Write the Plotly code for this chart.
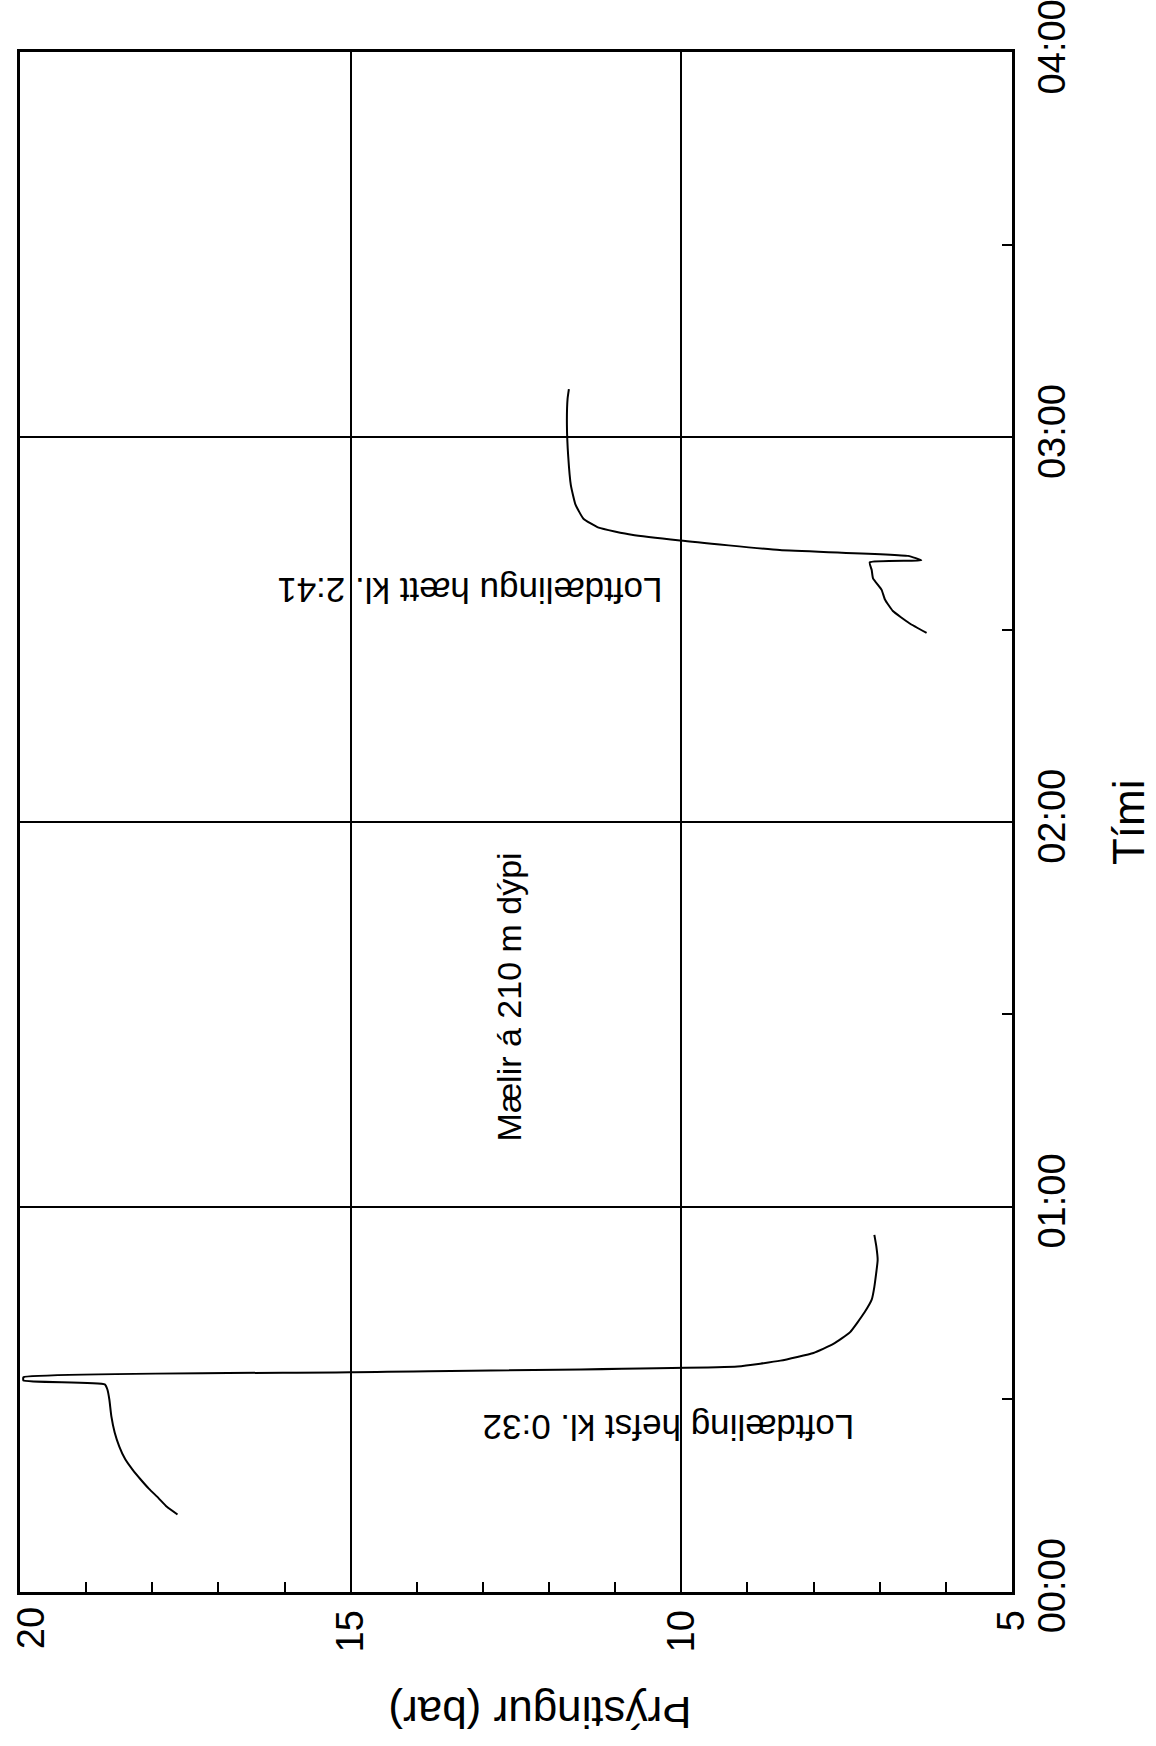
import pandas as pd
import plotly.graph_objects as go

# ---- data (pressure in bar, time in minutes after 00:00) ----
p_before = [17.62, 17.78, 17.91, 18.05, 18.18, 18.30, 18.41, 18.50, 18.57, 18.62, 18.65,
            18.68, 18.72, 19.95, 19.95, 15.0, 9.15, 8.5, 8.0, 7.7, 7.45, 7.23, 7.12,
            7.08, 7.03, 7.05, 7.08]
t_before = [12.0, 13.2, 14.6, 16.0, 17.5, 19.0, 20.6, 22.6, 24.8, 27.3, 29.9,
            31.5, 32.3, 32.9, 33.4, 34.2, 35.1, 36.0, 37.2, 38.6, 40.4, 43.5, 45.5,
            47.5, 51.7, 53.8, 55.6]

p_after = [6.29, 6.55, 6.80, 6.92, 6.97, 7.10, 7.12, 7.15, 6.37, 6.57, 8.51, 10.02,
           10.75, 11.25, 11.48, 11.6, 11.67, 11.71, 11.73, 11.72, 11.70]
t_after = [149.5, 151.0, 152.9, 154.7, 156.2, 158.0, 159.3, 160.5, 160.8, 161.5, 162.4, 163.9,
           164.8, 165.9, 167.3, 169.5, 172.5, 177.0, 182.0, 186.0, 187.5]

pressure_ticks = [20, 15, 10, 5]
hour_ticks = ["00:00", "01:00", "02:00", "03:00", "04:00"]

base = pd.Timestamp("2000-01-01 00:00")


def to_time(mins):
    return [base + pd.Timedelta(minutes=m) for m in mins]


FONT = "Liberation Sans, Arial, Helvetica, sans-serif"
BLACK = "black"

fig = go.Figure()
fig.add_trace(go.Scatter(x=p_before, y=to_time(t_before), mode="lines",
                         line=dict(color=BLACK, width=2, shape="spline", smoothing=0.4),
                         showlegend=False))
fig.add_trace(go.Scatter(x=p_after, y=to_time(t_after), mode="lines",
                         line=dict(color=BLACK, width=2, shape="spline", smoothing=0.4),
                         showlegend=False))

fig.update_layout(
    width=1156, height=1746,
    margin=dict(l=20, r=144, t=52, b=154, autoexpand=False),
    paper_bgcolor="white", plot_bgcolor="white",
    font=dict(family=FONT, color=BLACK),
    showlegend=False,
)

# the first label (20) sits on the page edge, so it is drawn as an annotation below
fig.update_xaxes(
    range=[20.002, 4.998], tickmode="array", tickvals=pressure_ticks,
    ticktext=[""] + [str(v) for v in pressure_ticks[1:]],
    tickangle=-90, tickfont=dict(size=38, family=FONT, color=BLACK),
    ticks="inside", ticklen=10, tickwidth=2, tickcolor=BLACK,
    showline=True, linewidth=3, linecolor=BLACK, mirror=True,
    showgrid=True, gridcolor=BLACK, gridwidth=2, zeroline=False,
    minor=dict(tickmode="array", tickvals=list(range(6, 20)), ticks="inside", ticklen=10,
               tickwidth=2, tickcolor=BLACK, showgrid=False),
    ticklabelstandoff=0,
    ticklabeloverflow="allow",
    automargin=False,
)

fig.update_yaxes(
    type="date",
    range=[base - pd.Timedelta(seconds=5), base + pd.Timedelta(hours=4, seconds=5)],
    side="right",
    tickmode="array",
    tickvals=to_time([0, 60, 120, 180, 240]),
    ticktext=hour_ticks,
    tickangle=-90, tickfont=dict(size=38, family=FONT, color=BLACK),
    ticks="inside", ticklen=10, tickwidth=2, tickcolor=BLACK,
    showline=True, linewidth=3, linecolor=BLACK, mirror=True,
    showgrid=True, gridcolor=BLACK, gridwidth=2, zeroline=False,
    minor=dict(tickmode="array", tickvals=to_time([30, 90, 150, 210]), ticks="inside",
               ticklen=10, tickwidth=2, tickcolor=BLACK, showgrid=False),
    ticklabelstandoff=4,
    ticklabeloverflow="allow",
    automargin=False,
)

fig.add_annotation(x=pressure_ticks[0], xref="x", yref="paper", y=-0.0085,
                   text=str(pressure_ticks[0]), textangle=-90, showarrow=False,
                   xanchor="left", yanchor="top", xshift=-12,
                   font=dict(family=FONT, size=38, color=BLACK))

ann_font = dict(family=FONT, size=35, color=BLACK)
fig.add_annotation(x=12.6, y=base + pd.Timedelta(minutes=92.7), text="Mælir á 210 m dýpi",
                   textangle=-90, showarrow=False, xanchor="center", yanchor="middle",
                   font=dict(family=FONT, size=34, color=BLACK))
fig.add_annotation(x=10.2, y=base + pd.Timedelta(minutes=25.6), text="Loftdæling hefst kl. 0:32",
                   textangle=180, showarrow=False, xanchor="center", yanchor="middle", font=ann_font)
fig.add_annotation(x=13.2, y=base + pd.Timedelta(minutes=156.2), text="Loftdælingu hætt kl. 2:41",
                   textangle=180, showarrow=False, xanchor="center", yanchor="middle", font=ann_font)

fig.add_annotation(xref="paper", yref="paper", x=0.524, y=-0.0786, text="Þrýstingur (bar)",
                   textangle=180, showarrow=False, xanchor="center", yanchor="middle",
                   font=dict(family=FONT, size=44, color=BLACK))
fig.add_annotation(xref="paper", yref="paper", x=1.117, y=0.5, text="Tími",
                   textangle=-90, showarrow=False, xanchor="center", yanchor="middle",
                   font=dict(family=FONT, size=44, color=BLACK))

fig.write_html("out.html")
